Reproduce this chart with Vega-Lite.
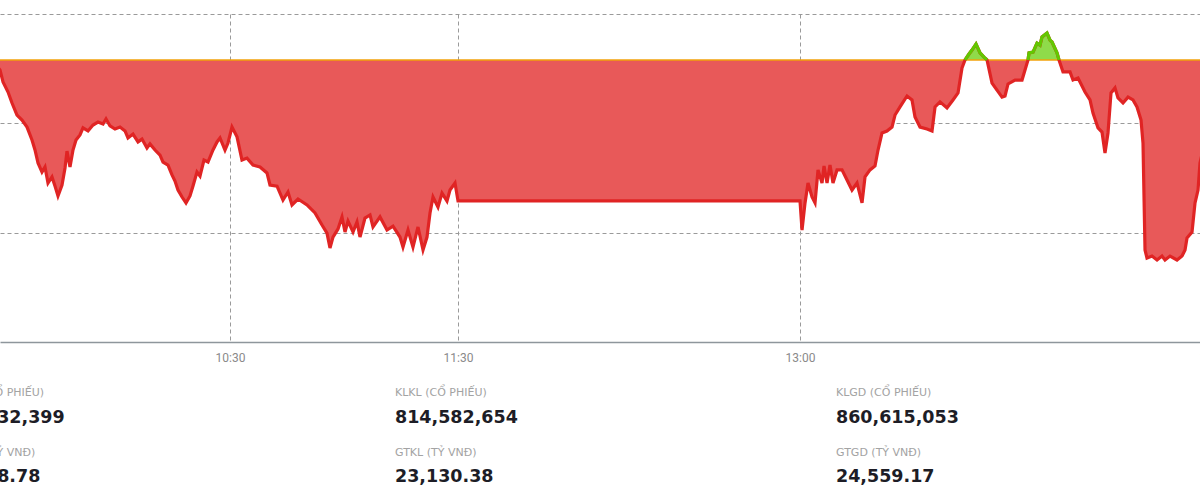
{
"$schema": "https://vega.github.io/schema/vega-lite/v6.json",
"background": "#ffffff",
"padding": {"top": 14, "left": 0, "right": 0, "bottom": 0},
"spacing": 10,
"config": {"view": {"stroke": null}, "axis": {"gridDash": [4, 3], "gridColor": "#9a9a9a", "gridWidth": 1, "title": null, "ticks": false}},
"datasets": {
"idx": [
{"m":27.37,"v":1257.9},{"m":29.47,"v":1257.44},{"m":30.26,"v":1256.89},{"m":31.58,"v":1256.43},{"m":32.63,"v":1255.93},{"m":33.94,"v":1255.38},{"m":35.26,"v":1255.15},{"m":36.58,"v":1254.83},{"m":37.89,"v":1254.24},{"m":38.68,"v":1253.78},{"m":39.47,"v":1253.19},{"m":40.52,"v":1252.77},{"m":41.31,"v":1253.0},{"m":42.1,"v":1252.27},{"m":43.15,"v":1252.55},{"m":43.94,"v":1252.13},{"m":44.73,"v":1251.68},{"m":45.79,"v":1252.18},{"m":46.58,"v":1252.96},{"m":47.1,"v":1253.73},{"m":47.89,"v":1253.0},{"m":48.68,"v":1253.78},{"m":49.47,"v":1254.24},{"m":50.52,"v":1254.47},{"m":51.31,"v":1254.79},{"m":52.63,"v":1254.65},{"m":53.94,"v":1254.92},{"m":55.26,"v":1255.06},{"m":56.58,"v":1254.97},{"m":57.37,"v":1255.2},{"m":58.42,"v":1254.88},{"m":59.73,"v":1254.74},{"m":61.05,"v":1254.83},{"m":62.37,"v":1254.65},{"m":63.15,"v":1254.33},{"m":64.47,"v":1254.51},{"m":65.79,"v":1254.15},{"m":66.84,"v":1254.28},{"m":68.15,"v":1253.87},{"m":68.94,"v":1254.06},{"m":70.26,"v":1253.78},{"m":71.58,"v":1253.55},{"m":72.37,"v":1253.23},{"m":73.68,"v":1253.09},{"m":74.73,"v":1252.64},{"m":75.52,"v":1252.36},{"m":76.31,"v":1251.95},{"m":77.37,"v":1251.63},{"m":78.42,"v":1251.36},{"m":79.47,"v":1251.68},{"m":80.26,"v":1252.13},{"m":81.31,"v":1252.77},{"m":82.1,"v":1252.59},{"m":83.15,"v":1253.32},{"m":84.21,"v":1253.23},{"m":85.52,"v":1253.78},{"m":86.58,"v":1254.15},{"m":87.37,"v":1254.33},{"m":88.68,"v":1253.78},{"m":89.47,"v":1254.1},{"m":90.52,"v":1254.83},{"m":91.84,"v":1254.38},{"m":93.15,"v":1253.32},{"m":94.47,"v":1253.41},{"m":96.05,"v":1253.09},{"m":97.89,"v":1253.0},{"m":99.73,"v":1252.73},{"m":100.52,"v":1252.18},{"m":102.37,"v":1252.13},{"m":103.94,"v":1251.49},{"m":105.26,"v":1251.86},{"m":106.31,"v":1251.27},{"m":107.89,"v":1251.54},{"m":110.26,"v":1251.27},{"m":112.37,"v":1250.9},{"m":114.21,"v":1250.35},{"m":115.52,"v":1249.98},{"m":116.31,"v":1249.3},{"m":117.1,"v":1249.8},{"m":118.42,"v":1250.17},{"m":119.47,"v":1250.72},{"m":120.26,"v":1250.03},{"m":121.05,"v":1250.53},{"m":122.37,"v":1250.03},{"m":123.42,"v":1250.49},{"m":124.21,"v":1249.8},{"m":125.52,"v":1250.67},{"m":126.84,"v":1250.81},{"m":127.63,"v":1250.26},{"m":129.47,"v":1250.72},{"m":131.31,"v":1250.12},{"m":132.89,"v":1250.3},{"m":134.73,"v":1249.8},{"m":135.52,"v":1249.34},{"m":136.84,"v":1250.12},{"m":138.15,"v":1249.34},{"m":139.47,"v":1250.26},{"m":140.79,"v":1249.21},{"m":141.84,"v":1249.8},{"m":142.63,"v":1250.9},{"m":143.42,"v":1251.63},{"m":144.73,"v":1251.17},{"m":145.79,"v":1251.81},{"m":147.1,"v":1251.45},{"m":147.89,"v":1251.95},{"m":149.21,"v":1252.27},{"m":150,"v":1251.45},
{"m":240,"v":1251.45},{"m":240.53,"v":1250.12},{"m":241.32,"v":1251.36},{"m":242.11,"v":1252.27},{"m":243.16,"v":1251.63},{"m":243.95,"v":1251.36},{"m":244.74,"v":1252.87},{"m":245.79,"v":1252.27},{"m":246.32,"v":1253.05},{"m":247.11,"v":1252.27},{"m":247.89,"v":1253.09},{"m":248.68,"v":1252.27},{"m":249.74,"v":1252.87},{"m":251.05,"v":1252.87},{"m":252.37,"v":1252.41},{"m":253.68,"v":1251.95},{"m":255,"v":1252.27},{"m":256.32,"v":1251.36},{"m":257.11,"v":1252.55},{"m":258.42,"v":1252.87},{"m":259.74,"v":1253.05},{"m":260.53,"v":1253.78},{"m":261.58,"v":1254.56},{"m":262.89,"v":1254.65},{"m":264.21,"v":1254.83},{"m":265,"v":1255.38},{"m":266.32,"v":1255.75},{"m":268.16,"v":1256.25},{"m":269.47,"v":1256.07},{"m":270.26,"v":1255.29},{"m":271.58,"v":1254.83},{"m":273.42,"v":1254.74},{"m":274.74,"v":1254.65},{"m":275.53,"v":1255.75},{"m":276.84,"v":1255.98},{"m":278.68,"v":1255.7},{"m":280.26,"v":1256.07},{"m":281.58,"v":1256.39},{"m":282.63,"v":1257.53},
{"m":283.42,"v":1257.9,"up":1},{"m":284.47,"v":1258.17,"up":1},{"m":285.26,"v":1258.35,"up":1},{"m":286.32,"v":1258.63,"up":1},{"m":287.37,"v":1258.22,"up":1},{"m":288.42,"v":1258.03,"up":1},{"m":289.21,"v":1257.9,"up":1},
{"m":290.53,"v":1256.84},{"m":291.84,"v":1256.52},{"m":293.16,"v":1256.2},{"m":293.95,"v":1256.25},{"m":294.74,"v":1256.8},{"m":296.58,"v":1256.98},{"m":298.42,"v":1256.98},{"m":299.21,"v":1257.44},
{"m":300,"v":1257.9,"up":2},{"m":300.26,"v":1258.22,"up":2},{"m":301.32,"v":1258.26,"up":2},{"m":302.37,"v":1258.67,"up":2},{"m":303.16,"v":1258.58,"up":2},{"m":303.68,"v":1258.95,"up":2},{"m":305,"v":1259.13,"up":2},{"m":305.79,"v":1258.81,"up":2},{"m":306.32,"v":1258.72,"up":2},{"m":307.63,"v":1258.22,"up":2},{"m":308.16,"v":1257.9,"up":2},
{"m":309.21,"v":1257.35},{"m":311.05,"v":1257.35},{"m":311.84,"v":1256.98},{"m":313.16,"v":1257.07},{"m":315,"v":1256.43},{"m":316.32,"v":1256.07},{"m":317.1,"v":1255.47},{"m":318.42,"v":1254.79},{"m":319.47,"v":1254.6},{"m":320.26,"v":1253.64},{"m":321.05,"v":1254.56},{"m":321.84,"v":1256.39},{"m":322.89,"v":1256.62},{"m":323.68,"v":1256.16},{"m":325,"v":1255.93},{"m":326.32,"v":1256.2},{"m":327.63,"v":1256.07},{"m":328.68,"v":1255.75},{"m":329.74,"v":1255.15},{"m":330.26,"v":1254.1},{"m":330.79,"v":1249.21},{"m":331.31,"v":1248.84},{"m":332.63,"v":1248.93},{"m":333.95,"v":1248.75},{"m":335.26,"v":1248.93},{"m":336.05,"v":1248.75},{"m":337.37,"v":1248.93},{"m":339.21,"v":1248.75},{"m":340.53,"v":1248.93},{"m":341.32,"v":1249.21},{"m":341.84,"v":1249.76},{"m":343.16,"v":1250.03},{"m":343.95,"v":1251.36},{"m":344.74,"v":1251.95},{"m":345.26,"v":1253.19},{"m":346.05,"v":1253.78}
]
},
"vconcat": [
{
"width": 1200,
"height": 328,
"data": {"name": "idx"},
"encoding": {
"x": {"field": "m", "type": "quantitative", "scale": {"domain": [29.47, 345.26], "nice": false, "zero": false},
"axis": {"values": [90, 150, 240, 345], "grid": true, "labelExpr": "format(floor(datum.value/60)+9,'02d') + ':' + format(datum.value%60,'02d')", "labelFont": "Roboto", "labelFontSize": 12, "labelColor": "#8a8a8a", "labelPadding": 10, "labelFlush": false, "labelOverlap": false, "domainColor": "#8e969c", "domainWidth": 1.5, "labelAlign": {"condition": {"test": "datum.value == 345", "value": "left"}, "value": "center"}, "gridOpacity": {"condition": {"test": "datum.value == 345", "value": 0}, "value": 1}}},
"y": {"field": "v", "type": "quantitative", "scale": {"domain": [1245, 1260], "nice": false, "zero": false},
"axis": {"values": [1250, 1255, 1260], "grid": true, "labels": false, "domain": false, "ticks": false}}
},
"layer": [
{"mark": {"type": "area", "color": "#e85959", "opacity": 1, "fillOpacity": 1, "clip": true}, "encoding": {"y2": {"datum": 1257.9}}},
{"transform": [{"filter": "datum.up > 0"}], "mark": {"type": "area", "color": "#8fdb4a", "opacity": 1, "fillOpacity": 1, "clip": true}, "encoding": {"y2": {"datum": 1257.9}, "detail": {"field": "up"}}},
{"mark": {"type": "line", "color": "#f2a20a", "strokeWidth": 1.5, "clip": true}, "encoding": {"y": {"datum": 1257.9}}},
{"mark": {"type": "line", "color": "#e02424", "strokeWidth": 3.2, "clip": true}},
{"transform": [{"filter": "datum.up > 0"}], "mark": {"type": "line", "color": "#62c800", "strokeWidth": 3.2, "clip": true}, "encoding": {"detail": {"field": "up"}}}
]
},
{
"width": 1200,
"height": 128,
"data": {"values": [
{"col": 0, "grp": 0, "label": "KLTT (CỔ PHIẾU)", "value": "46,032,399"},
{"col": 0, "grp": 1, "label": "GTTT (TỶ VNĐ)", "value": "1,428.78"},
{"col": 1, "grp": 0, "label": "KLKL (CỔ PHIẾU)", "value": "814,582,654"},
{"col": 1, "grp": 1, "label": "GTKL (TỶ VNĐ)", "value": "23,130.38"},
{"col": 2, "grp": 0, "label": "KLGD (CỔ PHIẾU)", "value": "860,615,053"},
{"col": 2, "grp": 1, "label": "GTGD (TỶ VNĐ)", "value": "24,559.17"}
]},
"encoding": {
"x": {"field": "col", "type": "quantitative", "scale": {"domain": [0, 2], "range": [-46, 836]}, "axis": null},
"y": {"field": "grp", "type": "quantitative", "scale": {"domain": [0, 1], "range": [32.25, 91.75]}, "axis": null}
},
"layer": [
{"mark": {"type": "text", "align": "left", "baseline": "middle", "dy": -12.25, "font": "DejaVu Sans", "fontSize": 11, "color": "#a3a3a3", "clip": true}, "encoding": {"text": {"field": "label"}}},
{"mark": {"type": "text", "align": "left", "baseline": "middle", "dy": 12.25, "font": "DejaVu Sans", "fontSize": 17.5, "fontWeight": "bold", "color": "#1d1d26", "clip": true}, "encoding": {"text": {"field": "value"}}}
]
}
]
}
